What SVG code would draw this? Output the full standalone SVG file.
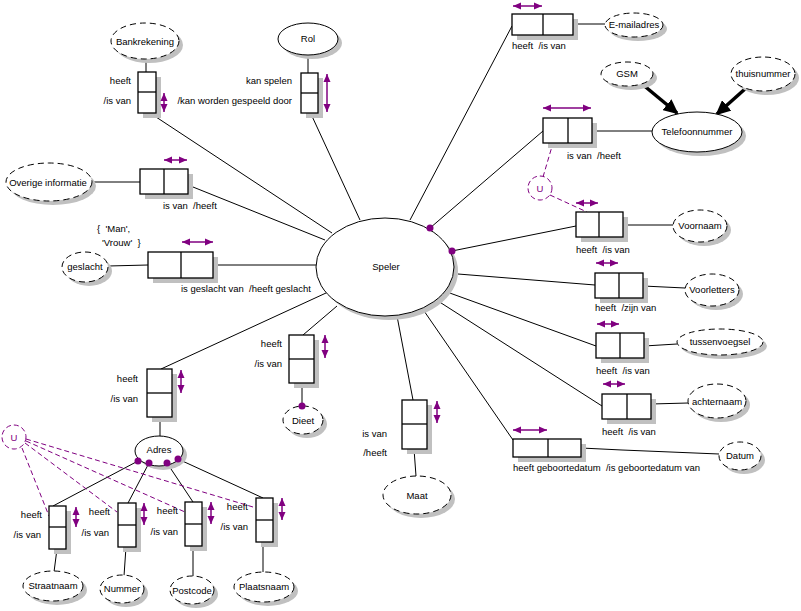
<svg xmlns="http://www.w3.org/2000/svg" width="801" height="611" viewBox="0 0 801 611">
<defs>
<style>
text{font-family:"Liberation Sans",Arial,sans-serif;font-size:9.5px;fill:#000;white-space:pre}
.m{text-anchor:middle}
.r{text-anchor:end}
.sh{fill:#c0c0c0;stroke:none}
.bx{fill:#fff;stroke:#000;stroke-width:1.3}
.dv{stroke:#000;stroke-width:1.3}
.de{fill:#fff;stroke:#000;stroke-width:1;stroke-dasharray:6,4}
.se{fill:#fff;stroke:#000;stroke-width:1}
.ln{stroke:#000;stroke-width:1;fill:none}
.pa{stroke:#800080;stroke-width:1.5;fill:none;marker-start:url(#pa);marker-end:url(#pa)}
.uc{stroke:#800080;stroke-width:1;fill:none;stroke-dasharray:5,3}
.ut{fill:#800080}
.dot{fill:#800080}
.ba{stroke:#000;stroke-width:3.5;marker-end:url(#ba)}
</style>
<marker id="pa" viewBox="0 0 8 8" refX="8" refY="4" markerWidth="8" markerHeight="8" markerUnits="userSpaceOnUse" orient="auto-start-reverse"><path d="M0,0.5 L8,4 L0,7.5 z" fill="#800080"/></marker>
<marker id="ba" viewBox="0 0 15 14" refX="13" refY="7" markerWidth="15" markerHeight="14" markerUnits="userSpaceOnUse" orient="auto"><path d="M0,0 L15,7 L0,14 z" fill="#000"/></marker>
</defs>
<rect width="801" height="611" fill="#fff"/>

<g id="connectors">
<line class="ln" x1="146" y1="59" x2="146" y2="72"/>
<line class="ln" x1="308" y1="55" x2="308" y2="73"/>
<line class="ln" x1="153" y1="115" x2="332" y2="233"/>
<line class="ln" x1="311" y1="114" x2="360" y2="220"/>
<line class="ln" x1="92" y1="182" x2="140" y2="182"/>
<line class="ln" x1="188" y1="185" x2="325" y2="240"/>
<line class="ln" x1="108" y1="266" x2="148" y2="265"/>
<line class="ln" x1="213" y1="265" x2="316" y2="265"/>
<line class="ln" x1="161" y1="369" x2="326" y2="293"/>
<line class="ln" x1="160" y1="417" x2="160" y2="437"/>
<line class="ln" x1="303" y1="335" x2="337" y2="306"/>
<line class="ln" x1="302" y1="383" x2="302" y2="406"/>
<line class="ln" x1="397" y1="316" x2="413" y2="400"/>
<line class="ln" x1="414" y1="449" x2="416" y2="476"/>
<line class="ln" x1="422" y1="308" x2="513" y2="440"/>
<polyline class="ln" points="581,448 622,450 719,454"/>
<line class="ln" x1="438" y1="301" x2="602" y2="406"/>
<line class="ln" x1="651" y1="404" x2="688" y2="403"/>
<line class="ln" x1="447" y1="292" x2="596" y2="346"/>
<line class="ln" x1="644" y1="346" x2="677" y2="344"/>
<line class="ln" x1="458" y1="274" x2="595" y2="285"/>
<line class="ln" x1="643" y1="286" x2="685" y2="288"/>
<line class="ln" x1="452" y1="251" x2="576" y2="226"/>
<line class="ln" x1="623" y1="225" x2="673" y2="225"/>
<line class="ln" x1="430" y1="228" x2="543" y2="131"/>
<line class="ln" x1="592" y1="131" x2="652" y2="131"/>
<line class="ln" x1="410" y1="220" x2="512" y2="26"/>
<line class="ln" x1="573" y1="24" x2="605" y2="24"/>
<line class="ba" x1="642" y1="84" x2="677" y2="113"/>
<line class="ba" x1="745" y1="89" x2="717" y2="114"/>
<line class="ln" x1="138" y1="461" x2="53" y2="506"/>
<line class="ln" x1="149" y1="463" x2="128" y2="503"/>
<line class="ln" x1="167" y1="463" x2="193" y2="502"/>
<line class="ln" x1="178" y1="459" x2="263" y2="498"/>
<line class="ln" x1="57" y1="549" x2="54" y2="572"/>
<line class="ln" x1="126" y1="547" x2="124" y2="576"/>
<line class="ln" x1="193" y1="546" x2="193" y2="577"/>
<line class="ln" x1="263" y1="542" x2="263" y2="572"/>
<line class="uc" x1="543" y1="177" x2="553" y2="143"/>
<line class="uc" x1="550" y1="195" x2="587" y2="212"/>
<line class="uc" x1="22" y1="448" x2="49" y2="516"/>
<line class="uc" x1="25" y1="443" x2="117" y2="512"/>
<line class="uc" x1="26" y1="441" x2="185" y2="512"/>
<line class="uc" x1="26" y1="439" x2="253" y2="507"/>
</g>

<g id="speler">
<ellipse class="sh" cx="389" cy="271" rx="69" ry="49"/>
<ellipse class="se" cx="385" cy="267" rx="69" ry="49"/>
<text class="m" x="386" y="270">Speler</text>
<circle class="dot" cx="430" cy="228" r="3.5"/>
<circle class="dot" cx="452" cy="251" r="3.5"/>
</g>

<g id="bankrekening">
<ellipse class="sh" cx="149" cy="45" rx="34" ry="18"/>
<ellipse class="de" cx="145" cy="41" rx="34" ry="18"/>
<text class="m" x="145" y="45">Bankrekening</text>
</g>
<g id="fact-bankrekening">
<rect class="sh" x="143" y="77" width="18" height="41"/>
<rect class="bx" x="138" y="72" width="18" height="41"/>
<line class="dv" x1="138" y1="92" x2="156" y2="92"/>
<line class="pa" x1="164" y1="93" x2="164" y2="112"/>
<text class="r" x="131" y="84">heeft</text>
<text class="r" x="131" y="104">/is van</text>
</g>

<g id="rol">
<ellipse class="sh" cx="312" cy="43" rx="30" ry="16"/>
<ellipse class="se" cx="308" cy="39" rx="30" ry="16"/>
<text class="m" x="308" y="42">Rol</text>
</g>
<g id="fact-rol">
<rect class="sh" x="306" y="78" width="17" height="40"/>
<rect class="bx" x="301" y="73" width="17" height="40"/>
<line class="dv" x1="301" y1="93" x2="318" y2="93"/>
<line class="pa" x1="327" y1="74" x2="327" y2="112"/>
<text class="r" x="292" y="84">kan spelen</text>
<text class="r" x="292" y="104">/kan worden gespeeld door</text>
</g>

<g id="overige">
<ellipse class="sh" cx="53" cy="186" rx="43" ry="19"/>
<ellipse class="de" cx="49" cy="182" rx="43" ry="19"/>
<text class="m" x="48" y="186">Overige informatie</text>
</g>
<g id="fact-overige">
<rect class="sh" x="145" y="174" width="48" height="25"/>
<rect class="bx" x="140" y="169" width="48" height="25"/>
<line class="dv" x1="164" y1="169" x2="164" y2="194"/>
<line class="pa" x1="164" y1="160" x2="187" y2="160"/>
<text x="163" y="209">is van  /heeft</text>
</g>

<g id="geslacht">
<ellipse class="sh" cx="89" cy="271" rx="23" ry="15"/>
<ellipse class="de" cx="85" cy="267" rx="23" ry="15"/>
<text class="m" x="85" y="270">geslacht</text>
<text x="97" y="232">{  'Man',</text>
<text x="102" y="246">'Vrouw'  }</text>
</g>
<g id="fact-geslacht">
<rect class="sh" x="153" y="257" width="65" height="26"/>
<rect class="bx" x="148" y="252" width="65" height="26"/>
<line class="dv" x1="181" y1="252" x2="181" y2="278"/>
<line class="pa" x1="182" y1="242" x2="213" y2="242"/>
<text x="181" y="292">is geslacht van  /heeft geslacht</text>
</g>

<g id="emailadres">
<ellipse class="sh" cx="638" cy="29" rx="29" ry="12"/>
<ellipse class="de" cx="634" cy="25" rx="29" ry="12"/>
<text class="m" x="634" y="28">E-mailadres</text>
</g>
<g id="fact-email">
<rect class="sh" x="517" y="19" width="61" height="21"/>
<rect class="bx" x="512" y="14" width="61" height="21"/>
<line class="dv" x1="543" y1="14" x2="543" y2="35"/>
<line class="pa" x1="513" y1="6" x2="542" y2="6"/>
<text x="512" y="49">heeft  /is van</text>
</g>

<g id="gsm">
<ellipse class="sh" cx="631" cy="78" rx="26" ry="12"/>
<ellipse class="de" cx="627" cy="74" rx="26" ry="12"/>
<text class="m" x="627" y="77">GSM</text>
</g>
<g id="thuisnummer">
<ellipse class="sh" cx="767" cy="78" rx="32" ry="17"/>
<ellipse class="de" cx="763" cy="74" rx="32" ry="17"/>
<text class="m" x="763" y="77">thuisnummer</text>
</g>
<g id="telefoonnummer">
<ellipse class="sh" cx="701" cy="136" rx="45" ry="20"/>
<ellipse class="se" cx="697" cy="132" rx="45" ry="20"/>
<text class="m" x="697" y="135">Telefoonnummer</text>
</g>
<g id="fact-telefoon">
<rect class="sh" x="548" y="123" width="49" height="25"/>
<rect class="bx" x="543" y="118" width="49" height="25"/>
<line class="dv" x1="568" y1="118" x2="568" y2="143"/>
<line class="pa" x1="543" y1="108" x2="591" y2="108"/>
<text x="567" y="159">is van  /heeft</text>
</g>
<g id="u-telefoon">
<circle class="uc" cx="540" cy="188" r="12"/>
<text class="m ut" x="540" y="192">U</text>
</g>

<g id="voornaam">
<ellipse class="sh" cx="704" cy="230" rx="27" ry="16"/>
<ellipse class="de" cx="700" cy="226" rx="27" ry="16"/>
<text class="m" x="700" y="229">Voornaam</text>
</g>
<g id="fact-voornaam">
<rect class="sh" x="581" y="217" width="47" height="25"/>
<rect class="bx" x="576" y="212" width="47" height="25"/>
<line class="dv" x1="599" y1="212" x2="599" y2="237"/>
<line class="pa" x1="576" y1="203" x2="598" y2="203"/>
<text x="576" y="253">heeft  /is van</text>
</g>

<g id="voorletters">
<ellipse class="sh" cx="716" cy="294" rx="27" ry="16"/>
<ellipse class="de" cx="712" cy="290" rx="27" ry="16"/>
<text class="m" x="712" y="293">Voorletters</text>
</g>
<g id="fact-voorletters">
<rect class="sh" x="600" y="278" width="48" height="25"/>
<rect class="bx" x="595" y="273" width="48" height="25"/>
<line class="dv" x1="619" y1="273" x2="619" y2="298"/>
<line class="pa" x1="596" y1="263" x2="618" y2="263"/>
<text x="595" y="311">heeft  /zijn van</text>
</g>

<g id="tussenvoegsel">
<ellipse class="sh" cx="724" cy="346" rx="43" ry="13"/>
<ellipse class="de" cx="720" cy="342" rx="43" ry="13"/>
<text class="m" x="720" y="345">tussenvoegsel</text>
</g>
<g id="fact-tussenvoegsel">
<rect class="sh" x="601" y="338" width="48" height="25"/>
<rect class="bx" x="596" y="333" width="48" height="25"/>
<line class="dv" x1="620" y1="333" x2="620" y2="358"/>
<line class="pa" x1="597" y1="324" x2="619" y2="324"/>
<text x="596" y="374">heeft  /is van</text>
</g>

<g id="achternaam">
<ellipse class="sh" cx="721" cy="405" rx="29" ry="17"/>
<ellipse class="de" cx="717" cy="401" rx="29" ry="17"/>
<text class="m" x="717" y="405">achternaam</text>
</g>
<g id="fact-achternaam">
<rect class="sh" x="607" y="399" width="49" height="25"/>
<rect class="bx" x="602" y="394" width="49" height="25"/>
<line class="dv" x1="627" y1="394" x2="627" y2="419"/>
<line class="pa" x1="603" y1="384" x2="625" y2="384"/>
<text x="602" y="435">heeft  /is van</text>
</g>

<g id="datum">
<ellipse class="sh" cx="744" cy="460" rx="21" ry="14"/>
<ellipse class="de" cx="740" cy="456" rx="21" ry="14"/>
<text class="m" x="740" y="459">Datum</text>
</g>
<g id="fact-geboortedatum">
<rect class="sh" x="518" y="444" width="68" height="18"/>
<rect class="bx" x="513" y="439" width="68" height="18"/>
<line class="dv" x1="548" y1="439" x2="548" y2="457"/>
<line class="pa" x1="513" y1="430" x2="547" y2="430"/>
<text x="513" y="471">heeft geboortedatum  /is geboortedatum van</text>
</g>

<g id="maat">
<ellipse class="sh" cx="421" cy="499" rx="34" ry="19"/>
<ellipse class="de" cx="417" cy="495" rx="34" ry="19"/>
<text class="m" x="417" y="499">Maat</text>
</g>
<g id="fact-maat">
<rect class="sh" x="407" y="405" width="25" height="49"/>
<rect class="bx" x="402" y="400" width="25" height="49"/>
<line class="dv" x1="402" y1="424" x2="427" y2="424"/>
<line class="pa" x1="437" y1="401" x2="437" y2="423"/>
<text class="r" x="387" y="437">is van</text>
<text class="r" x="387" y="456">/heeft</text>
</g>

<g id="dieet">
<ellipse class="sh" cx="307" cy="424" rx="20" ry="14"/>
<ellipse class="de" cx="303" cy="420" rx="20" ry="14"/>
<text class="m" x="303" y="424">Dieet</text>
<circle class="dot" cx="302" cy="406" r="3.5"/>
</g>
<g id="fact-dieet">
<rect class="sh" x="294" y="340" width="25" height="48"/>
<rect class="bx" x="289" y="335" width="25" height="48"/>
<line class="dv" x1="289" y1="359" x2="314" y2="359"/>
<line class="pa" x1="325" y1="335" x2="325" y2="358"/>
<text class="r" x="282" y="347">heeft</text>
<text class="r" x="282" y="367">/is van</text>
</g>

<g id="fact-adres">
<rect class="sh" x="152" y="374" width="25" height="48"/>
<rect class="bx" x="147" y="369" width="25" height="48"/>
<line class="dv" x1="147" y1="393" x2="172" y2="393"/>
<line class="pa" x1="181" y1="370" x2="181" y2="393"/>
<text class="r" x="138" y="382">heeft</text>
<text class="r" x="138" y="402">/is van</text>
</g>
<g id="adres">
<ellipse class="sh" cx="163" cy="455" rx="24" ry="15"/>
<ellipse class="se" cx="159" cy="451" rx="24" ry="15"/>
<text class="m" x="159" y="453">Adres</text>
<circle class="dot" cx="138" cy="461" r="3.5"/>
<circle class="dot" cx="149" cy="463" r="3.5"/>
<circle class="dot" cx="167" cy="463" r="3.5"/>
<circle class="dot" cx="178" cy="459" r="3.5"/>
</g>
<g id="u-adres">
<circle class="uc" cx="14" cy="437" r="12"/>
<text class="m ut" x="14" y="441">U</text>
</g>

<g id="fact-straatnaam">
<rect class="sh" x="54" y="511" width="17" height="43"/>
<rect class="bx" x="49" y="506" width="17" height="43"/>
<line class="dv" x1="49" y1="527" x2="66" y2="527"/>
<line class="pa" x1="76" y1="507" x2="76" y2="527"/>
<text class="r" x="42" y="518">heeft</text>
<text class="r" x="41" y="538">/is van</text>
</g>
<g id="straatnaam">
<ellipse class="sh" cx="57" cy="590" rx="30" ry="15"/>
<ellipse class="de" cx="53" cy="586" rx="30" ry="15"/>
<text class="m" x="53" y="589">Straatnaam</text>
</g>

<g id="fact-nummer">
<rect class="sh" x="123" y="508" width="18" height="44"/>
<rect class="bx" x="118" y="503" width="18" height="44"/>
<line class="dv" x1="118" y1="525" x2="136" y2="525"/>
<line class="pa" x1="144" y1="503" x2="144" y2="525"/>
<text class="r" x="110" y="515">heeft</text>
<text class="r" x="109" y="536">/is van</text>
</g>
<g id="nummer">
<ellipse class="sh" cx="126" cy="593" rx="22" ry="14"/>
<ellipse class="de" cx="122" cy="589" rx="22" ry="14"/>
<text class="m" x="122" y="592">Nummer</text>
</g>

<g id="fact-postcode">
<rect class="sh" x="190" y="507" width="17" height="44"/>
<rect class="bx" x="185" y="502" width="17" height="44"/>
<line class="dv" x1="185" y1="524" x2="202" y2="524"/>
<line class="pa" x1="211" y1="502" x2="211" y2="524"/>
<text class="r" x="178" y="514">heeft</text>
<text class="r" x="178" y="535">/is van</text>
</g>
<g id="postcode">
<ellipse class="sh" cx="196" cy="594" rx="22" ry="14"/>
<ellipse class="de" cx="192" cy="590" rx="22" ry="14"/>
<text class="m" x="192" y="594">Postcode</text>
</g>

<g id="fact-plaatsnaam">
<rect class="sh" x="261" y="503" width="17" height="44"/>
<rect class="bx" x="256" y="498" width="17" height="44"/>
<line class="dv" x1="256" y1="520" x2="273" y2="520"/>
<line class="pa" x1="282" y1="498" x2="282" y2="520"/>
<text class="r" x="248" y="510">heeft</text>
<text class="r" x="248" y="530">/is van</text>
</g>
<g id="plaatsnaam">
<ellipse class="sh" cx="268" cy="591" rx="30" ry="15"/>
<ellipse class="de" cx="264" cy="587" rx="30" ry="15"/>
<text class="m" x="264" y="590">Plaatsnaam</text>
</g>
</svg>
